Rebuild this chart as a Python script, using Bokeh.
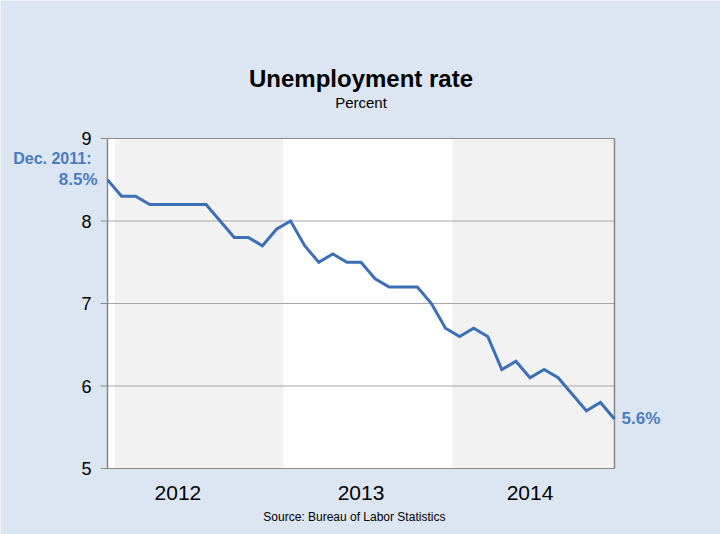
from bokeh.plotting import figure
from bokeh.models import Range1d, Label
from bokeh.embed import file_html
from bokeh.resources import INLINE

# monthly unemployment rate, Dec 2011 .. Dec 2014
rates = [8.5,
         8.3, 8.3, 8.2, 8.2, 8.2, 8.2, 8.2, 8.0, 7.8, 7.8, 7.7, 7.9,
         8.0, 7.7, 7.5, 7.6, 7.5, 7.5, 7.3, 7.2, 7.2, 7.2, 7.0, 6.7,
         6.6, 6.7, 6.6, 6.2, 6.3, 6.1, 6.2, 6.1, 5.9, 5.7, 5.8, 5.6]
months = list(range(len(rates)))  # 0 = Dec 2011

years = ["2012", "2013", "2014"]
year_first_month = [1, 13, 25]
year_last_month = [12, 24, 36]
year_label_month = [5, 18, 30]
band_colors = ["#f2f2f2", "#ffffff", "#f2f2f2"]

first_label = "Dec. 2011:"
y_ticks = [5, 6, 7, 8, 9]

blue = "#3b6fb6"
text_blue = "#4a7cc0"
font = "Liberation Sans"

W, H = 720, 534
# plot box in pixels (left, right, top, bottom)
bx0, bx1, by0, by1 = 107, 614, 138, 468
x0, x1 = months[0], months[-1]
y0, y1 = y_ticks[0], y_ticks[-1]
sx = (x1 - x0) / (bx1 - bx0)
sy = (y1 - y0) / (by1 - by0)

# the frame fills the whole canvas; the chart box is drawn inside it
p = figure(width=W, height=H, output_backend="svg", toolbar_location=None,
           x_range=Range1d(x0 - bx0 * sx, x1 + (W - bx1) * sx),
           y_range=Range1d(y0 - (H - by1) * sy, y1 + by0 * sy),
           x_axis_location=None, y_axis_location=None,
           min_border=0)
p.grid.visible = False
p.outline_line_color = None
p.background_fill_color = "#dce6f2"
p.border_fill_color = "#dce6f2"

# plot box and year bands
p.quad(left=[x0], right=[x1], bottom=[y0], top=[y1], fill_color="white", line_color=None)
p.quad(left=[m - 0.5 for m in year_first_month],
       right=[min(m + 0.5, x1) for m in year_last_month],
       bottom=y0, top=y1, fill_color=band_colors, line_color=None)

# gridlines with ticks
tick = 7 * sx
inner = [t for t in y_ticks if t not in (y0, y1)]
p.segment(x0=[x0] * len(inner), x1=[x1] * len(inner), y0=inner, y1=inner,
          line_color="#a6a6a6", line_width=1)
p.segment(x0=[x0 - tick] * len(inner), x1=[x0] * len(inner), y0=inner, y1=inner,
          line_color="#868686", line_width=1)
p.segment(x0=[x0 - tick, x0 - tick], x1=[x1, x1], y0=[y0, y1], y1=[y0, y1],
          line_color="#8c8c8c", line_width=1)
p.segment(x0=[x0, x1], x1=[x0, x1], y0=[y0, y0], y1=[y1, y1],
          line_color="#868686", line_width=1.5)

p.line(months, rates, line_color=blue, line_width=3, line_join="miter")

# y tick labels
for t in y_ticks:
    p.add_layout(Label(x=x0, y=t, x_offset=-16, text=str(t), text_font=font,
                       text_font_size="18px", text_align="right",
                       text_baseline="middle", text_color="black"))

# year labels
for m, yr in zip(year_label_month, years):
    p.add_layout(Label(x=m, y=y0, y_offset=-(492 - by1), text=yr, text_font=font,
                       text_font_size="21px", text_align="center",
                       text_baseline="middle", text_color="black"))

# titles and source
mid = (bx0 + bx1) / 2
p.add_layout(Label(x=mid, y=H - 77.5, x_units="screen", y_units="screen",
                   text="Unemployment rate", text_font=font, text_font_size="24px",
                   text_font_style="bold", text_align="center",
                   text_baseline="middle", text_color="black"))
p.add_layout(Label(x=mid, y=H - 101.5, x_units="screen", y_units="screen",
                   text="Percent", text_font=font, text_font_size="15px",
                   text_align="center", text_baseline="middle",
                   text_color="black"))
p.add_layout(Label(x=mid, y=H - 516.5, x_units="screen", y_units="screen",
                   text="Source:  Bureau  of  Labor  Statistics", text_font=font,
                   text_font_size="12px", text_align="center",
                   text_baseline="middle", text_color="black"))

# end point labels
p.add_layout(Label(x=months[0], y=rates[0], x_offset=-16, y_offset=21,
                   text=first_label, text_font=font, text_font_size="16px",
                   text_font_style="bold", text_align="right",
                   text_baseline="middle", text_color=text_blue))
p.add_layout(Label(x=months[0], y=rates[0], x_offset=-10, y_offset=0,
                   text=f"{rates[0]}%", text_font=font, text_font_size="17px",
                   text_font_style="bold", text_align="right",
                   text_baseline="middle", text_color=text_blue))
p.add_layout(Label(x=months[-1], y=rates[-1], x_offset=7, y_offset=1,
                   text=f"{rates[-1]}%", text_font=font, text_font_size="17px",
                   text_font_style="bold", text_align="left",
                   text_baseline="middle", text_color=text_blue))

open("out.html", "w").write(file_html(p, INLINE))
